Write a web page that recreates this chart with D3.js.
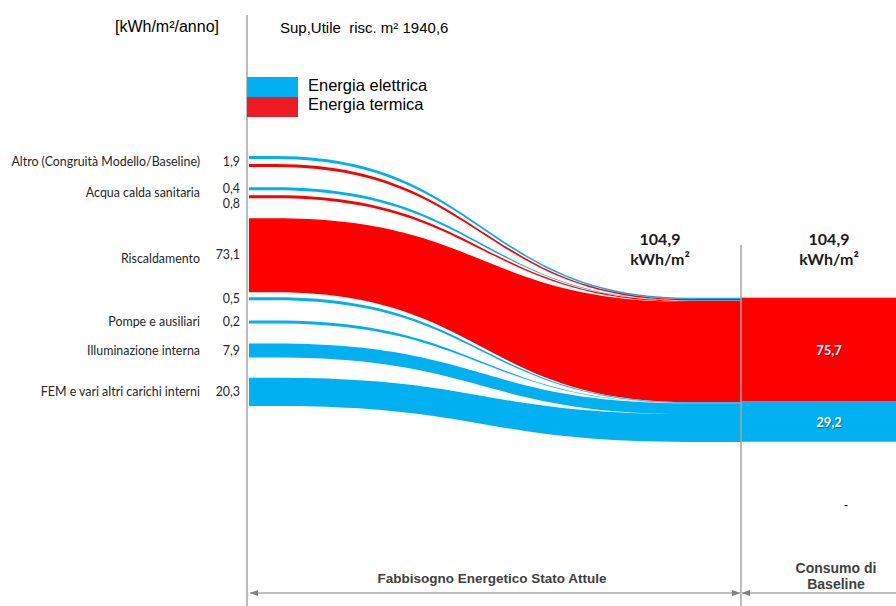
<!DOCTYPE html>
<html>
<head>
<meta charset="utf-8">
<script src="https://cdn.jsdelivr.net/npm/d3@7"></script>
<style>
  body { margin: 0; background: #fff; }
  svg { display: block; }
  .cal { font-family: Lato, "Open Sans", sans-serif; }
  .ari { font-family: "Liberation Sans", Arial, sans-serif; }
  .nar { font-family: "Liberation Sans Narrow", "Arial Narrow", "Liberation Sans", sans-serif; }
</style>
</head>
<body>
<div id="chart"></div>
<script>
// Categorie (etichette a sinistra)
var categories = ['Altro (Congruità Modello/Baseline)', 'Acqua calda sanitaria', 'Riscaldamento',
  'Pompe e ausiliari', 'Illuminazione interna', 'FEM e vari altri carichi interni'];

// Flussi, dall'alto in basso: categoria, vettore, valore [kWh/m²/anno]
var flowCategory = [0, 0, 1, 1, 2, 2, 3, 4, 5];
var flowCarrier = ['elettrica', 'termica', 'elettrica', 'termica', 'termica', 'elettrica', 'elettrica', 'elettrica', 'elettrica'];
var flowValue = [1.0, 0.9, 0.4, 0.8, 73.1, 0.5, 0.2, 7.9, 20.3];
// gruppo dell'etichetta numerica (Altro ha una sola etichetta per le due linee)
var flowLabelGroup = [0, 0, 1, 2, 3, 4, 5, 6, 7];

// Consumo di baseline
var baselineCarrier = ['termica', 'elettrica'];
var baselineValue = [75.7, 29.2];

var carriers = ['elettrica', 'termica'];
var legendLabels = ['Energia elettrica', 'Energia termica'];
var surface = 1940.6;

const width = 896;
const height = 606;
const xStart = 249, xCurveStart = 275, xCurveEnd = 690, xSplit = 741, xRight = 896;
const leftTop = 156, leftBottom = 406;

var it = d3.formatLocale({ decimal: ',', thousands: '.', grouping: [3], currency: ['€', ''] });
var fmt = it.format('.1f');

var color = d3.scaleOrdinal().domain(carriers).range(['#00B0F0', '#FF0000']);
var legendColor = d3.scaleOrdinal().domain(carriers).range(['#00B0F0', '#ED1C24']);

var svg = d3.select('#chart')
  .append('svg')
  .attr('width', width)
  .attr('height', height);

var defs = svg.append('defs');
defs.append('marker')
  .attr('id', 'arr')
  .attr('viewBox', '0 0 8 8')
  .attr('refX', 8).attr('refY', 4)
  .attr('markerWidth', 8).attr('markerHeight', 8)
  .attr('markerUnits', 'userSpaceOnUse')
  .attr('orient', 'auto-start-reverse')
  .append('path')
  .attr('d', 'M0,1 L8,4 L0,7 Z')
  .attr('fill', '#808080');

// Flussi
var flows = flowValue.map(function (v, i) {
  return { cat: flowCategory[i], carrier: flowCarrier[i], value: v, group: flowLabelGroup[i] };
});

// spessore a sinistra (con spessore minimo visibile)
var wLeft = d3.scalePow().exponent(0.75)
  .domain([0, d3.max(flowValue)])
  .range([0, 74]);
flows.forEach(function (f) { f.w = Math.max(3, wLeft(f.value)); });

var gapIn = 5, nIn = 0, nOut = 0;
flows.forEach(function (f, i) {
  if (i === 0) return;
  if (f.cat === flows[i - 1].cat) nIn++; else nOut++;
});
var gapOut = (leftBottom - leftTop - d3.sum(flows, function (f) { return f.w; }) - nIn * gapIn) / nOut;

var yy = leftTop;
flows.forEach(function (f, i) {
  if (i > 0) yy += (f.cat === flows[i - 1].cat ? gapIn : gapOut);
  f.y0 = yy;
  f.y1 = yy + f.w;
  yy = f.y1;
});

// scala della barra di baseline
var total = d3.sum(baselineValue);
var yBar = d3.scaleLinear().domain([0, total]).range([441.7, 297.7]);

var acc = 0;
flows.forEach(function (f) {
  f.r0 = yBar(total - acc);
  acc += f.value;
  f.r1 = yBar(total - acc);
});

function bandPath(f) {
  var p = d3.path();
  var xm = (xCurveStart + xCurveEnd) / 2;
  p.moveTo(xStart, f.y0);
  p.lineTo(xCurveStart, f.y0);
  p.bezierCurveTo(xm, f.y0, xm, f.r0, xCurveEnd, f.r0);
  p.lineTo(xSplit, f.r0);
  p.lineTo(xSplit, f.r1);
  p.lineTo(xCurveEnd, f.r1);
  p.bezierCurveTo(xm, f.r1, xm, f.y1, xCurveStart, f.y1);
  p.lineTo(xStart, f.y1);
  p.closePath();
  return p.toString();
}

svg.append('g')
  .selectAll('path')
  .data(flows)
  .enter()
  .append('path')
  .attr('d', bandPath)
  .attr('fill', function (d) { return color(d.carrier); });

// Barra consumo di baseline
var bars = [];
var cum = total;
baselineValue.forEach(function (v, i) {
  bars.push({ carrier: baselineCarrier[i], value: v, top: cum, bottom: cum - v });
  cum -= v;
});

svg.append('g')
  .selectAll('rect')
  .data(bars)
  .enter()
  .append('rect')
  .attr('x', xSplit)
  .attr('width', xRight - xSplit)
  .attr('y', function (d) { return yBar(d.top); })
  .attr('height', function (d) { return yBar(d.bottom) - yBar(d.top); })
  .attr('fill', function (d) { return color(d.carrier); });

svg.append('g')
  .selectAll('text')
  .data(bars)
  .enter()
  .append('text')
  .attr('class', 'cal')
  .attr('x', 829)
  .attr('y', function (d) { return (yBar(d.top) + yBar(d.bottom)) / 2 + 5; })
  .attr('text-anchor', 'middle')
  .attr('font-size', 13)
  .attr('font-weight', 'bold')
  .attr('fill', '#fff')
  .style('text-shadow', '1px 1px 1px rgba(0,0,0,0.35)')
  .text(function (d) { return fmt(d.value); });

// Totali
[660, 829].forEach(function (cx) {
  var t = svg.append('text')
    .attr('class', 'cal')
    .attr('text-anchor', 'middle')
    .attr('font-size', 16)
    .attr('font-weight', 'bold')
    .attr('fill', '#1a1a1a');
  t.append('tspan').attr('x', cx).attr('y', 245).text(fmt(total));
  t.append('tspan').attr('x', cx).attr('y', 265).text('kWh/m²');
});

// Etichette categorie
var catLabels = categories.map(function (c, i) {
  var fs = flows.filter(function (f) { return f.cat === i; });
  return { name: c, y: (d3.min(fs, function (f) { return f.y0; }) + d3.max(fs, function (f) { return f.y1; })) / 2 };
});

svg.append('g')
  .selectAll('text')
  .data(catLabels)
  .enter()
  .append('text')
  .attr('class', 'cal')
  .attr('x', 200)
  .attr('y', function (d) { return d.y + 4; })
  .attr('text-anchor', 'end')
  .attr('font-size', 12.4)
  .attr('fill', '#262626')
  .text(function (d) { return d.name; });

// Etichette valori
var valLabels = d3.groups(flows, function (f) { return f.group; }).map(function (g) {
  var fs = g[1];
  return {
    value: d3.sum(fs, function (f) { return f.value; }),
    y: (d3.min(fs, function (f) { return f.y0; }) + d3.max(fs, function (f) { return f.y1; })) / 2
  };
});
for (var k = 1; k < valLabels.length; k++) {
  if (valLabels[k].y - valLabels[k - 1].y < 15) valLabels[k].y = valLabels[k - 1].y + 15;
}

svg.append('g')
  .selectAll('text')
  .data(valLabels)
  .enter()
  .append('text')
  .attr('class', 'cal')
  .attr('x', 240)
  .attr('y', function (d) { return d.y + 4; })
  .attr('text-anchor', 'end')
  .attr('font-size', 12.4)
  .attr('fill', '#262626')
  .text(function (d) { return fmt(d.value); });

// Linee verticali
svg.append('line')
  .attr('x1', 247).attr('x2', 247)
  .attr('y1', 15).attr('y2', height)
  .attr('stroke', '#A6A6A6').attr('stroke-width', 1.5);

svg.append('line')
  .attr('x1', xSplit).attr('x2', xSplit)
  .attr('y1', 245).attr('y2', height)
  .attr('stroke', '#A6A6A6').attr('stroke-width', 1.5);

// Quote in basso
svg.append('line')
  .attr('x1', 250).attr('x2', xSplit - 1)
  .attr('y1', 593).attr('y2', 593)
  .attr('stroke', '#808080').attr('stroke-width', 1.2)
  .attr('marker-start', 'url(#arr)')
  .attr('marker-end', 'url(#arr)');

svg.append('line')
  .attr('x1', xSplit + 1).attr('x2', xRight)
  .attr('y1', 593).attr('y2', 593)
  .attr('stroke', '#808080').attr('stroke-width', 1.2)
  .attr('marker-start', 'url(#arr)');

svg.append('text')
  .attr('class', 'nar')
  .attr('x', 492).attr('y', 583)
  .attr('text-anchor', 'middle')
  .attr('font-size', 13.5)
  .attr('font-weight', 'bold')
  .attr('fill', '#404040')
  .text('Fabbisogno Energetico Stato Attule');

var cb = svg.append('text')
  .attr('class', 'nar')
  .attr('text-anchor', 'middle')
  .attr('font-size', 14)
  .attr('font-weight', 'bold')
  .attr('fill', '#404040');
cb.append('tspan').attr('x', 836).attr('y', 573).text('Consumo di');
cb.append('tspan').attr('x', 836).attr('y', 589).text('Baseline');

svg.append('text')
  .attr('class', 'ari')
  .attr('x', 846).attr('y', 509)
  .attr('text-anchor', 'middle')
  .attr('font-size', 12)
  .attr('fill', '#000')
  .text('-');

// Titoli
svg.append('text')
  .attr('class', 'ari')
  .attr('x', 219).attr('y', 32)
  .attr('text-anchor', 'end')
  .attr('font-size', 16)
  .attr('fill', '#000')
  .text('[kWh/m²/anno]');

svg.append('text')
  .attr('class', 'ari')
  .attr('x', 280).attr('y', 33)
  .attr('font-size', 15)
  .attr('fill', '#000')
  .text('Sup,Utile\u00a0\u00a0risc. m² ' + fmt(surface));

// Legenda
var legend = svg.append('g');
carriers.forEach(function (c, i) {
  legend.append('rect')
    .attr('x', 247).attr('y', 77 + i * 20)
    .attr('width', 51).attr('height', 20)
    .attr('fill', legendColor(c));
  legend.append('text')
    .attr('class', 'ari')
    .attr('x', 308).attr('y', 91 + i * 18.5)
    .attr('font-size', 16.5)
    .attr('fill', '#000')
    .text(legendLabels[i]);
});
</script>
</body>
</html>
